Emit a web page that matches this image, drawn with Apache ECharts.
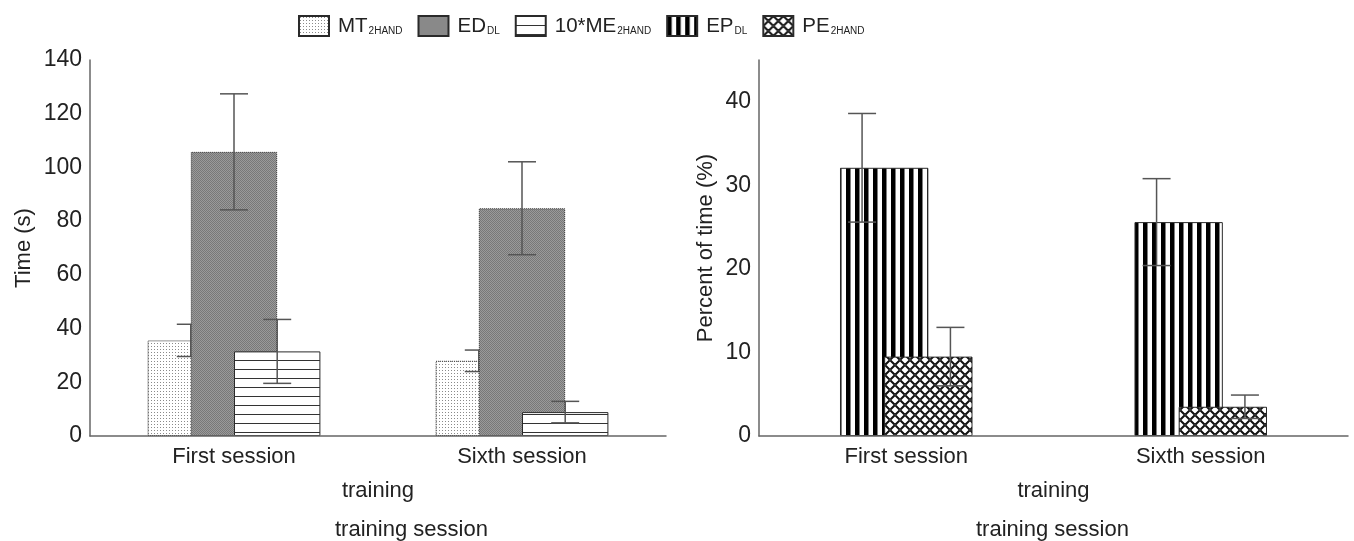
<!DOCTYPE html>
<html>
<head>
<meta charset="utf-8">
<script src="https://cdn.jsdelivr.net/npm/echarts@6/dist/echarts.min.js"></script>
<style>
html,body{margin:0;padding:0;background:#fff;}
#chart{width:1354px;height:541px;}
</style>
</head>
<body>
<div id="chart"></div>
<script>
// ---------- data ----------
const categories = ['First session', 'Sixth session'];
const seriesNames = ['MT', 'ED', '10*ME', 'EP', 'PE'];
const seriesSubs = ['2HAND', 'DL', '2HAND', 'DL', '2HAND'];
const mtMean = [35.6, 28.0];
const mtErr = [6.0, 4.0];
const edMean = [105.8, 84.8];
const edErr = [21.6, 17.3];
const meMean = [31.5, 8.9];
const meErr = [11.9, 4.0];
const epMean = [32.1, 25.6];
const epErr = [6.5, 5.2];
const peMean = [9.5, 3.5];
const peErr = [3.5, 1.4];
const leftTicks = {min: 0, max: 140, interval: 20};
const rightTicks = {min: 0, max: 45, interval: 10};
const xTitle = 'training';
const sessionTitle = 'training session';
const leftYTitle = 'Time (s)';
const rightYTitle = 'Percent of time (%)';

// ---------- patterns ----------
function pattern(w, h, draw) {
  const c = document.createElement('canvas');
  c.width = w; c.height = h;
  const ctx = c.getContext('2d');
  draw(ctx, w, h);
  return {image: c, repeat: 'repeat'};
}
const pMT = pattern(3, 3, (ctx) => {
  ctx.fillStyle = '#fff'; ctx.fillRect(0, 0, 3, 3);
  ctx.fillStyle = '#8a8a8a'; ctx.fillRect(1, 1, 1, 1);
});
const pED = pattern(2, 2, (ctx) => {
  ctx.fillStyle = '#9a9a9a'; ctx.fillRect(0, 0, 2, 2);
  ctx.fillStyle = '#787878'; ctx.fillRect(0, 0, 1, 1); ctx.fillRect(1, 1, 1, 1);
});
const pME = pattern(4, 9, (ctx) => {
  ctx.fillStyle = '#fff'; ctx.fillRect(0, 0, 4, 9);
  ctx.fillStyle = '#333'; ctx.fillRect(0, 0, 4, 1);
});
const pEP = pattern(9, 4, (ctx) => {
  ctx.fillStyle = '#fff'; ctx.fillRect(0, 0, 9, 4);
  ctx.fillStyle = '#000'; ctx.fillRect(0, 0, 4.5, 4);
});
const pPE = pattern(10, 10, (ctx) => {
  ctx.fillStyle = '#fff'; ctx.fillRect(0, 0, 10, 10);
  ctx.strokeStyle = '#111'; ctx.lineWidth = 2; ctx.lineCap = 'square';
  ctx.beginPath();
  ctx.moveTo(1, 1); ctx.lineTo(4, 4);
  ctx.moveTo(6, 6); ctx.lineTo(9, 9);
  ctx.moveTo(6, 4); ctx.lineTo(9, 1);
  ctx.moveTo(1, 9); ctx.lineTo(4, 6);
  ctx.stroke();
});

const FONT = "'Liberation Sans', Arial, sans-serif";
const TXT = '#222';
const AX = '#666';
const BAR_W = '30%';
const ERR_COLOR = '#555';
const CAP = 28;

function barSeries(name, fill, data, axisIdx, z, dotted) {
  return {
    name: name, type: 'bar', xAxisIndex: axisIdx, yAxisIndex: axisIdx,
    barWidth: BAR_W, barGap: '-50%', z: z,
    data: data,
    itemStyle: {color: fill, borderColor: '#2a2a2a', borderWidth: 1, borderType: dotted ? 'dotted' : 'solid'},
    emphasis: {disabled: true},
    animation: false
  };
}
function errSeries(means, errs, axisIdx, offFrac, z) {
  return {
    type: 'custom', xAxisIndex: axisIdx, yAxisIndex: axisIdx, z: z,
    data: means.map((m, i) => [i, m, errs[i]]),
    encode: {x: 0, y: 1},
    silent: true, animation: false,
    renderItem: function (params, api) {
      const i = api.value(0), m = api.value(1), e = api.value(2);
      const band = api.size([1, 0])[0];
      const c = api.coord([i, m]);
      const x = c[0] + offFrac * band;
      const top = api.coord([i, m + e])[1];
      const bot = api.coord([i, m - e])[1];
      const st = {stroke: ERR_COLOR, lineWidth: 1.5};
      return {
        type: 'group', children: [
          {type: 'line', shape: {x1: x, y1: top, x2: x, y2: bot}, style: st},
          {type: 'line', shape: {x1: x - CAP / 2, y1: top, x2: x + CAP / 2, y2: top}, style: st},
          {type: 'line', shape: {x1: x - CAP / 2, y1: bot, x2: x + CAP / 2, y2: bot}, style: st}
        ]
      };
    }
  };
}

function xAxisCfg(gridIndex) {
  return {
    type: 'category', gridIndex: gridIndex, data: categories, z: 20,
    axisLine: {lineStyle: {color: AX, width: 1.5}},
    axisTick: {show: false},
    axisLabel: {fontSize: 22, color: TXT, fontFamily: FONT, margin: 10},
    name: xTitle, nameLocation: 'middle', nameGap: 44,
    nameTextStyle: {fontSize: 22, color: TXT, fontFamily: FONT}
  };
}
function yAxisCfg(gridIndex, t, name, gap) {
  return {
    type: 'value', gridIndex: gridIndex, min: t.min, max: t.max, interval: t.interval, z: 20,
    axisLine: {show: true, lineStyle: {color: AX, width: 1.5}},
    axisTick: {show: false},
    splitLine: {show: false},
    axisLabel: {fontSize: 23, color: TXT, fontFamily: FONT, margin: 8,
      formatter: v => (v % t.interval === 0 ? String(v) : '')},
    name: name, nameLocation: 'middle', nameRotate: 90, nameGap: gap,
    nameTextStyle: {fontSize: 22, color: TXT, fontFamily: FONT}
  };
}

const fills = [pMT, pED, pME, pEP, pPE];
const chart = echarts.init(document.getElementById('chart'), null, {renderer: 'canvas'});
chart.setOption({
  backgroundColor: '#fff',
  animation: false,
  textStyle: {fontFamily: FONT},
  grid: [
    {left: 90, width: 576, top: 60, bottom: 105},
    {left: 759, width: 589, top: 60, bottom: 105}
  ],
  legend: {
    left: 298, top: 15, padding: 0, itemWidth: 30, itemHeight: 20, itemGap: 15, icon: 'rect',
    data: seriesNames,
    selectedMode: false,
    formatter: function (name) {
      const i = seriesNames.indexOf(name);
      return '{m|' + name + '}{s|' + seriesSubs[i] + '}';
    },
    textStyle: {
      color: TXT, fontFamily: FONT, padding: [0, 0, 0, 4],
      rich: {
        m: {fontSize: 20.5, color: TXT, fontFamily: FONT},
        s: {fontSize: 10, color: TXT, fontFamily: FONT, verticalAlign: 'bottom', padding: [9, 0, 0, 1]}
      }
    }
  },
  xAxis: [xAxisCfg(0), xAxisCfg(1)],
  yAxis: [yAxisCfg(0, leftTicks, leftYTitle, 55), yAxisCfg(1, rightTicks, rightYTitle, 42)],
  series: [
    barSeries(seriesNames[0], fills[0], mtMean, 0, 2, true),
    errSeries(mtMean, mtErr, 0, -0.15, 3),
    barSeries(seriesNames[1], fills[1], edMean, 0, 4, true),
    errSeries(edMean, edErr, 0, 0, 5),
    barSeries(seriesNames[2], fills[2], meMean, 0, 6, false),
    errSeries(meMean, meErr, 0, 0.15, 7),
    barSeries(seriesNames[3], fills[3], epMean, 1, 2, false),
    errSeries(epMean, epErr, 1, -0.15, 3),
    barSeries(seriesNames[4], fills[4], peMean, 1, 4, false),
    errSeries(peMean, peErr, 1, 0.15, 5)
  ],
  graphic: [
    {type: 'text', left: 414 - 79, top: 519, style: {text: sessionTitle, fontSize: 22, fill: TXT, fontFamily: FONT}},
    {type: 'text', left: 1055 - 79, top: 519, style: {text: sessionTitle, fontSize: 22, fill: TXT, fontFamily: FONT}}
  ]
});
</script>
</body>
</html>
